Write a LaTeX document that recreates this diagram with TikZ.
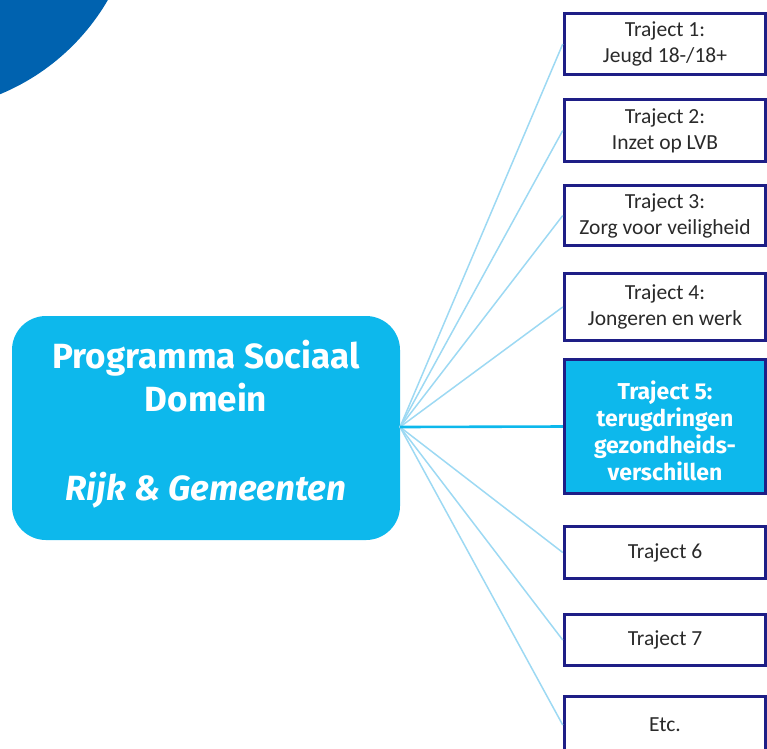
\documentclass[tikz,border=0pt]{standalone}
\usepackage{fontspec}
\setmainfont{Carlito}
\newfontfamily\headfont{Fira Sans}
\definecolor{cyanbox}{HTML}{0DB8EC}
\definecolor{navyline}{HTML}{1E1E86}
\definecolor{lightline}{HTML}{9DD9F3}
\definecolor{blob}{HTML}{0062AF}
\definecolor{txt}{HTML}{2A2A2A}
\tikzset{
  tbox/.style={draw=navyline, line width=3pt, fill=white, minimum width=201.5pt, inner sep=0pt,
    align=center, text=txt, font=\fontsize{21.5}{26}\selectfont},
  hotbox/.style={tbox, fill=cyanbox},
  hottext/.style={align=center, inner sep=0pt, text=white, font=\headfont\bfseries\fontsize{23}{27}\selectfont},
  link/.style={draw=lightline, line width=1.5pt},
  hotlink/.style={draw=cyanbox, line width=2.6pt},
  mainbox/.style={fill=cyanbox, rounded corners=34pt, minimum width=388pt, minimum height=224pt, inner sep=0pt},
  maintext/.style={align=center, inner sep=0pt, text=white, font=\headfont\bfseries\fontsize{35}{43}\selectfont}
}
\begin{document}
\begin{tikzpicture}[x=1pt,y=-1pt]
\useasboundingbox (0,0) rectangle (767,748);
\fill[blob] (-85,-112) circle[radius=223];
\node[mainbox] (main) at (206,428) {};
\node[maintext] (maintxt) at (206,424) {Programma Sociaal\\Domein\\[46pt]\textit{Rijk \& Gemeenten}};
\coordinate (hub) at (400,427);
\node[tbox, minimum height=61pt] (t1) at (665,44) {Traject 1:\\Jeugd 18-/18+};
\node[tbox, minimum height=62pt] (t2) at (665,130.5) {Traject 2:\\Inzet op LVB};
\node[tbox, minimum height=60pt] (t3) at (665,215.5) {Traject 3:\\Zorg voor veiligheid};
\node[tbox, minimum height=67pt] (t4) at (665,307) {Traject 4:\\Jongeren en werk};
\node[hotbox, minimum height=134pt] (t5) at (665,426.5) {};
\node[hottext] (t5txt) at (665,431) {Traject 5:\\terugdringen\\gezondheids-\\verschillen};
\node[tbox, minimum height=52pt] (t6) at (665,552.5) {Traject 6};
\node[tbox, minimum height=51pt] (t7) at (665,640) {Traject 7};
\node[tbox, minimum height=57pt] (t8) at (665,725) {Etc.};
\foreach \t in {t1,t2,t3,t4,t6,t7,t8} \draw[link] (hub) -- (\t.west);
\draw[hotlink] (hub) -- (t5.west);
\end{tikzpicture}
\end{document}
